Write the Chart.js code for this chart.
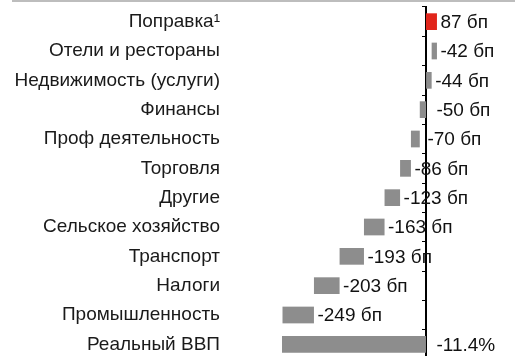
<!DOCTYPE html>
<html>
<head>
<meta charset="utf-8">
<script src="https://cdn.jsdelivr.net/npm/chart.js@4.4.1/dist/chart.umd.min.js"></script>
<style>
  html, body { margin: 0; padding: 0; background: #fff; overflow: hidden; }
  #wrap { position: relative; width: 515px; height: 356px; overflow: hidden; }
  #band { position: absolute; left: 12px; top: 0; width: 503px; height: 2px; background: #bdbdbd; }
  #c { position: absolute; left: 0; top: 0; }
</style>
</head>
<body>
<div id="wrap">
  <canvas id="c" width="515" height="359"></canvas>
  <div id="band"></div>
</div>
<script>
// Sector contributions to the change in real GDP, basis points
const categories = [
  'Поправка¹',
  'Отели и рестораны',
  'Недвижимость (услуги)',
  'Финансы',
  'Проф деятельность',
  'Торговля',
  'Другие',
  'Сельское хозяйство',
  'Транспорт',
  'Налоги',
  'Промышленность',
  'Реальный ВВП'
];
const contributionsBp = [87, -42, -44, -50, -70, -86, -123, -163, -193, -203, -249];
const realGdpPct = -11.4;

const valueLabels = contributionsBp.map(v => v + ' бп').concat([realGdpPct.toFixed(1) + '%']);

// Waterfall: each sector bar floats from the running total to the new total
const floating = [];
let running = 0;
contributionsBp.forEach(v => {
  floating.push([running, running + v]);
  running += v;
});
floating.push([0, realGdpPct * 100]);

const RED = '#e1251b';
const GREY = '#8d8d8d';
const barColors = contributionsBp.map(v => (v > 0 ? RED : GREY)).concat([GREY]);

const FONT = '"Liberation Sans", Arial, Helvetica, sans-serif';

const valueLabelPlugin = {
  id: 'valueLabels',
  afterDatasetsDraw(chart) {
    const ctx = chart.ctx;
    const meta = chart.getDatasetMeta(0);
    const axisX = chart.scales.x.getPixelForValue(0);
    ctx.save();
    ctx.font = '19px ' + FONT;
    ctx.fillStyle = '#111';
    ctx.textAlign = 'left';
    ctx.textBaseline = 'middle';
    meta.data.forEach((bar, i) => {
      const right = Math.max(bar.x, bar.base);
      const gap = axisX - right;
      let x;
      if (Math.abs(gap) < 3) x = axisX + 10.5;
      else if (gap >= 3 && gap < 12) x = axisX + 1.5;
      else x = right + 3.5;
      ctx.fillText(valueLabels[i], x, bar.y + 1);
    });
    ctx.restore();
  }
};

new Chart(document.getElementById('c'), {
  type: 'bar',
  data: {
    labels: categories,
    datasets: [{
      data: floating,
      backgroundColor: barColors,
      borderWidth: 0,
      categoryPercentage: 1,
      barPercentage: 0.57
    }]
  },
  options: {
    indexAxis: 'y',
    responsive: false,
    animation: false,
    layout: { padding: { top: 7, right: 0, bottom: 0, left: 0 } },
    plugins: {
      legend: { display: false },
      tooltip: { enabled: false }
    },
    scales: {
      x: {
        type: 'linear',
        display: false,
        min: -1140,
        max: 705
      },
      y: {
        type: 'category',
        position: { x: 0 },
        offset: true,
        ticks: { display: false },
        grid: {
          offset: true,
          drawOnChartArea: false,
          drawTicks: true,
          tickLength: 3,
          color: '#000',
          lineWidth: 1
        },
        border: { display: true, color: '#000', width: 2 }
      },
      yl: {
        type: 'category',
        axis: 'y',
        position: 'left',
        offset: true,
        grid: { display: false, drawTicks: false },
        border: { display: false },
        ticks: {
          color: '#1a1a1a',
          padding: 62,
          font: { family: FONT, size: 19 }
        },
        afterFit(scale) {
          scale.width = 282;
          scale.paddingTop = 0;
          scale.paddingBottom = 0;
        }
      }
    }
  },
  plugins: [valueLabelPlugin]
});
</script>
</body>
</html>
